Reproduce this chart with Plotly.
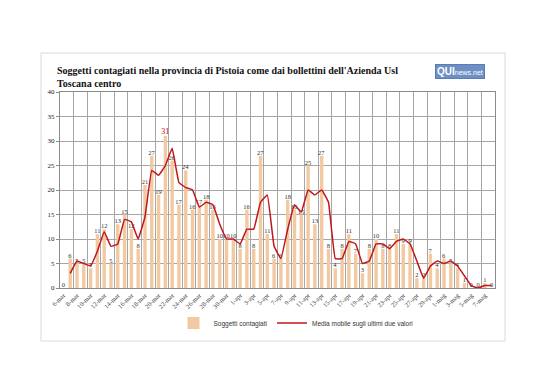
import plotly.graph_objects as go

days = ["6-mar", "7-mar", "8-mar", "9-mar", "10-mar", "11-mar", "12-mar", "13-mar", "14-mar", "15-mar",
        "16-mar", "17-mar", "18-mar", "19-mar", "20-mar", "21-mar", "22-mar", "23-mar", "24-mar", "25-mar",
        "26-mar", "27-mar", "28-mar", "29-mar", "30-mar", "31-mar",
        "1-apr", "2-apr", "3-apr", "4-apr", "5-apr", "6-apr", "7-apr", "8-apr", "9-apr", "10-apr",
        "11-apr", "12-apr", "13-apr", "14-apr", "15-apr", "16-apr", "17-apr", "18-apr", "19-apr", "20-apr",
        "21-apr", "22-apr", "23-apr", "24-apr", "25-apr", "26-apr", "27-apr", "28-apr", "29-apr", "30-apr",
        "1-mag", "2-mag", "3-mag", "4-mag", "5-mag", "6-mag", "7-mag", "8-mag"]

contagiati = [0, 6, 5, 5, 4, 11, 12, 5, 13, 15, 12, 8, 21, 27, 19, 31, 26, 17, 24, 16,
              17, 18, 16, 10, 10, 10, 8, 16, 8, 27, 11, 6, 6, 18, 16, 15, 25, 13, 27, 8,
              4, 8, 11, 7, 3, 8, 10, 8, 8, 11, 9, 9, 2, 2, 7, 4, 6, 5, 4, 1,
              0, 0, 1, 0]

media_mobile = [None, 3, 5.5, 5, 4.5, 7.5, 11.5, 8.5, 9, 14, 13.5, 10, 14.5, 24, 23, 25, 28.5, 21.5, 20.5, 20,
                16.5, 17.5, 17, 13, 10, 10, 9, 12, 12, 17.5, 19, 8.5, 6, 12, 17, 15.5, 20, 19, 20, 17.5,
                6, 6, 9.5, 9, 5, 5.5, 9, 9, 8, 9.5, 10, 9, 5.5, 2, 4.5, 5.5, 5, 5.5, 4.5, 2.5,
                0.5, 0, 0.5, 0.5]

y_ticks = [0, 5, 10, 15, 20, 25, 30, 35, 40]

title_text = ("Soggetti contagiati nella provincia di Pistoia come dai bollettini dell'Azienda Usl<br>"
              "Toscana centro")

idx = list(range(len(days)))
max_val = max(contagiati)
label_colors = ["#C00000" if v == max_val else "#333333" for v in contagiati]
label_sizes = [8 if v == max_val else 6.5 for v in contagiati]

fig = go.Figure()
fig.add_trace(go.Bar(
    x=idx, y=contagiati, name="Soggetti contagiati",
    marker=dict(color="#F2C9A1", line=dict(width=0)),
    text=[str(v) for v in contagiati], textposition="outside",
    textfont=dict(family="Liberation Serif", size=label_sizes, color=label_colors),
    constraintext="none", cliponaxis=False,
))
fig.add_trace(go.Scatter(
    x=idx, y=media_mobile, name="Media mobile sugli ultimi due valori",
    mode="lines", line=dict(color="#C0161B", width=1.5, shape="spline", smoothing=0.25),
))

L, R, T, B = 52, 51, 84, 100
W, H = 538, 380
pw, ph = W - L - R, H - T - B

def px_x(px):
    return (px - L) / pw

def px_y(py):
    return (H - B - py) / ph

fig.update_layout(
    width=W, height=H,
    margin=dict(l=L, r=R, t=T, b=B),
    paper_bgcolor="white", plot_bgcolor="white",
    bargap=0.5,
    showlegend=True,
    legend=dict(orientation="h", x=px_x(288), y=px_y(315), xanchor="center", yanchor="middle",
                font=dict(family="Liberation Sans", size=6.5, color="#333333"),
                itemwidth=30, bgcolor="rgba(0,0,0,0)"),
    xaxis=dict(
        range=[-0.5, len(days) - 0.5],
        tickmode="array", tickvals=idx[::2], ticktext=days[::2],
        tickangle=-45, tickfont=dict(family="Liberation Serif", size=6.5, color="#444444"),
        showgrid=False, zeroline=False,
        showline=True, linecolor="#8c8c8c", linewidth=1, mirror=True,
        ticks="",
        minor=dict(tickvals=[i - 0.5 for i in idx[::2]] + [len(days) - 0.5],
                   showgrid=True, gridcolor="#a6a6a6", gridwidth=1, ticks=""),
    ),
    yaxis=dict(
        range=[0, 40], tickmode="array", tickvals=y_ticks,
        tickfont=dict(family="Liberation Serif", size=7, color="#222222"),
        showgrid=True, gridcolor="#a6a6a6", gridwidth=1, zeroline=False,
        showline=True, linecolor="#8c8c8c", linewidth=1, mirror=True,
        ticks="outside", ticklen=3, tickcolor="#8c8c8c",
    ),
    annotations=[
        dict(text="<b>" + title_text + "</b>", xref="paper", yref="paper",
             x=px_x(47), y=px_y(55), xanchor="left", yanchor="top", align="left",
             showarrow=False, font=dict(family="Liberation Serif", size=10, color="#111111")),
        dict(text="<b>QUI</b><span style='font-size:7px'>news.net</span>", xref="paper", yref="paper",
             x=px_x(452), y=px_y(63.5), xanchor="center", yanchor="middle",
             showarrow=False, bgcolor="#6d8fc4", bordercolor="#5a7db5", borderwidth=1, borderpad=1,
             font=dict(family="Liberation Sans", size=10, color="white")),
    ],
    shapes=[
        dict(type="rect", xref="paper", yref="paper",
             x0=px_x(33), x1=px_x(497), y0=px_y(333), y1=px_y(45),
             line=dict(color="#d9d9d9", width=1), fillcolor="rgba(0,0,0,0)", layer="below"),
    ],
)

fig.write_html("out.html")
